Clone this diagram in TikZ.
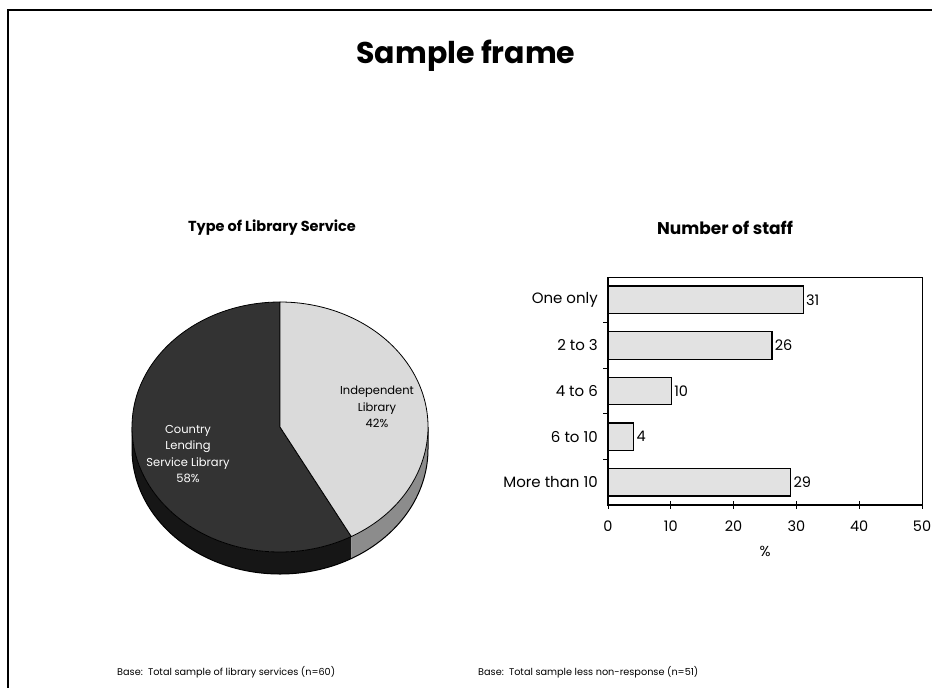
\documentclass[tikz,border=0pt]{standalone}
\usepackage{fontspec}
\setmainfont{Poppins}
\definecolor{darkslice}{HTML}{333333}
\definecolor{darkside}{HTML}{161616}
\definecolor{lightslice}{HTML}{DADADA}
\definecolor{lightside}{HTML}{8C8C8C}
\definecolor{barfill}{HTML}{E2E2E2}
\begin{document}
\begin{tikzpicture}[x=1pt,y=-1pt,
  heading/.style={inner sep=0pt, font=\bfseries\fontsize{14.5}{17}\selectfont},
  catlabel/.style={anchor=east, inner sep=0pt, font=\fontsize{15}{17}\selectfont},
  vallabel/.style={anchor=west, inner sep=2pt, font=\fontsize{14.5}{17}\selectfont},
  ticklabel/.style={inner sep=0pt, font=\fontsize{14.5}{17}\selectfont},
  barbox/.style={draw=black, line width=1.3pt, fill=barfill, inner sep=0pt,
    minimum height=27.5pt, anchor=west},
  pielabel/.style={align=center, inner sep=0pt, font=\fontsize{11.5}{16.5}\selectfont},
  footnote/.style={anchor=west, inner sep=0pt, font=\fontsize{9.7}{12}\selectfont}
]
\useasboundingbox (0,0) rectangle (932,688);

% page frame (top and left edges)
\draw[line width=1.5pt] (8,688) -- (8,10) -- (932,10);

% title and chart headings
\node[font=\bfseries\fontsize{30}{36}\selectfont] (title) at (466,56) {Sample frame};
\node[heading] (pietitle) at (272,228) {Type of Library Service};
\node[heading, font=\bfseries\fontsize{17}{20}\selectfont] (bartitle) at (725,228) {Number of staff};

% ---------- 3D pie ----------
\begin{scope}[shift={(280,427)}, yscale=-1]
  % visible rim, dark part then light part
  \fill[darkside] (180:148 and 125) arc[start angle=180, end angle=298.8, x radius=148, y radius=125]
     -- ++(0,-22) arc[start angle=298.8, end angle=180, x radius=148, y radius=125] -- cycle;
  \fill[lightside] (298.8:148 and 125) arc[start angle=298.8, end angle=360, x radius=148, y radius=125]
     -- ++(0,-22) arc[start angle=360, end angle=298.8, x radius=148, y radius=125] -- cycle;
  \draw[line width=1pt] (180:148 and 125) -- ++(0,-22)
     arc[start angle=180, end angle=360, x radius=148, y radius=125] -- (0:148 and 125);
  % top faces
  \filldraw[fill=darkslice, line width=0.8pt] (0,0) -- (90:148 and 125)
     arc[start angle=90, end angle=298.8, x radius=148, y radius=125] -- cycle;
  \filldraw[fill=lightslice, line width=0.8pt] (0,0) -- (298.8:148 and 125)
     arc[start angle=298.8, end angle=450, x radius=148, y radius=125] -- cycle;
\end{scope}
\node[pielabel, text=white] (countylab) at (188,454) {Country\\Lending\\Service Library\\58\%};
\node[pielabel, text=black] (indeplab) at (377,407) {Independent\\Library\\42\%};

% ---------- bar chart ----------
% plot box and axes
\draw[line width=0.6pt] (608,277) -- (922,277) -- (922,505);
\draw[line width=1.2pt] (608,277) -- (608,505) -- (922,505);
\foreach \k in {1,...,4}
  \draw[line width=0.8pt] (603,{277+45.6*\k}) -- (608,{277+45.6*\k});
\foreach \k in {0,...,5}{
  \draw[line width=0.8pt] ({608+62.8*\k},501) -- ({608+62.8*\k},509);
  \node[ticklabel] (tick\k) at ({608+62.8*\k},526) {\pgfmathparse{int(10*\k)}\pgfmathresult};
}
\node[ticklabel] (xunit) at (765,551) {\%};

\foreach \v/\lab [count=\i] in {31/One only, 26/2 to 3, 10/4 to 6, 4/6 to 10, 29/More than 10}{
  \node[barbox, minimum width={\v*6.28pt}] (bar\i) at (608,{277+45.6*(\i-0.5)}) {};
  \node[vallabel] (val\i) at (bar\i.east) {\v};
  \node[catlabel] (cat\i) at (598,{277+45.6*(\i-0.5)}) {\lab};
}

% base notes
\node[footnote] (basepie) at (117,672) {Base:\ \ Total sample of library services (n=60)};
\node[footnote] (basebar) at (478,672) {Base:\ \ Total sample less non-response (n=51)};
\end{tikzpicture}
\end{document}
